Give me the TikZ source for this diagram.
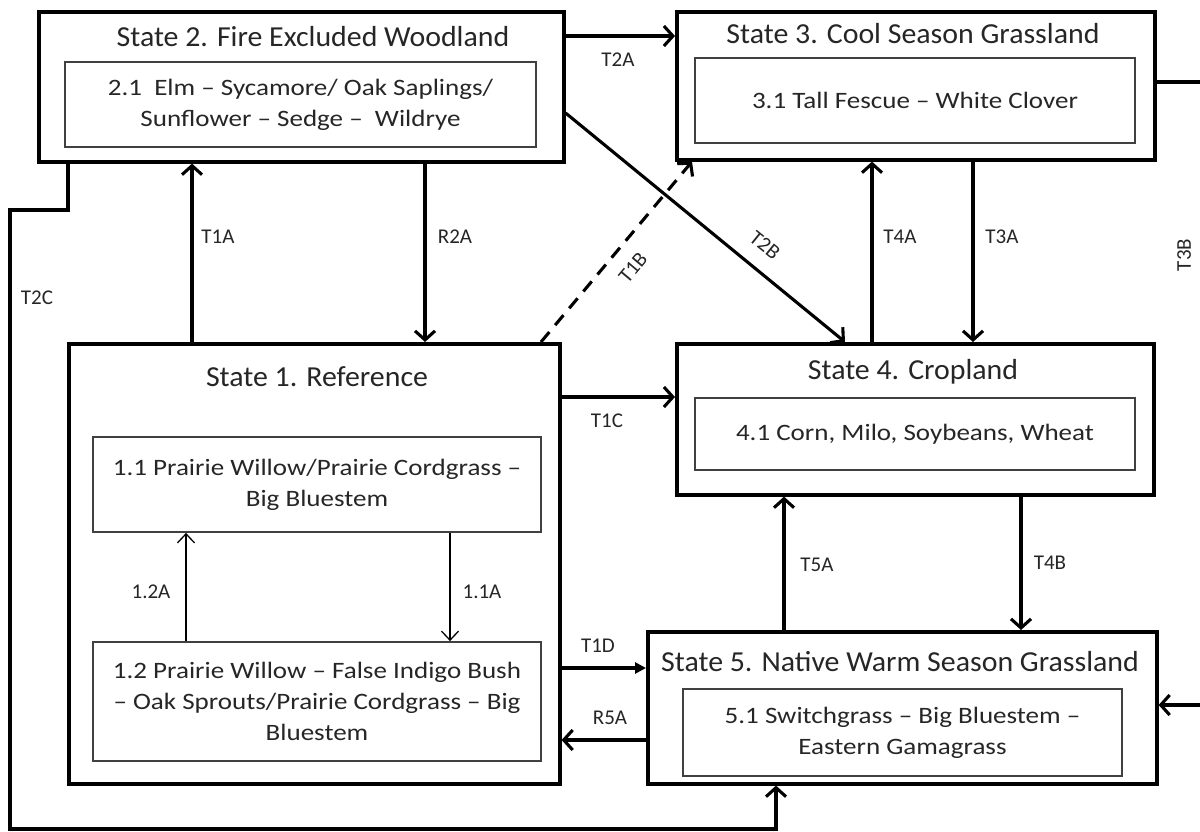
\documentclass[tikz,border=0pt]{standalone}
\usepackage{fontspec}
\setmainfont{Carlito}
\newfontfamily\innerfont[FakeStretch=1.15]{Carlito}
\newfontfamily\titlefont[FakeStretch=1.03]{Carlito}
\usetikzlibrary{arrows.meta}
\begin{document}
\begin{tikzpicture}[x=1pt,y=-1pt,
  outerbox/.style={draw=black, line width=3.6pt, inner sep=0pt, anchor=north west},
  innerbox/.style={draw=black!75, line width=1.8pt, inner sep=0pt, align=center,
    font=\innerfont\fontsize{23.5}{31}\selectfont, text=black!85},
  titletext/.style={font=\titlefont\fontsize{29}{32}\selectfont, text=black!85, inner sep=0pt},
  lbl/.style={font=\fontsize{21}{24}\selectfont, text=black!85, inner sep=0pt},
  conn/.style={line width=3.1pt, -{Straight Barb[length=9pt,width=20pt]}},
  solidconn/.style={line width=3.1pt, -{Triangle[length=11pt,width=11pt]}},
  thinconn/.style={line width=1.3pt, -{Straight Barb[length=9pt,width=17pt]}},
]
\fill[white] (0,0) rectangle (1200,832);
\useasboundingbox (0,0) rectangle (1200,832);

% State 2
\node[outerbox, minimum width=525pt, minimum height=150pt] (s2) at (37,10) {};
\node[titletext] (s2t) at (313,37) {State 2. Fire Excluded Woodland};
\node[innerbox, minimum width=471pt, minimum height=85pt] (s2i) at (300.5,104.5)
  {2.1\ \ Elm – Sycamore/ Oak Saplings/\\Sunflower – Sedge –\ \ Wildrye};

% State 3
\node[outerbox, minimum width=478pt, minimum height=148pt] (s3) at (675,10) {};
\node[titletext] (s3t) at (913,34) {State 3. Cool Season Grassland};
\node[innerbox, minimum width=440pt, minimum height=85pt] (s3i) at (915,100.5)
  {3.1 Tall Fescue – White Clover};

% State 4
\node[outerbox, minimum width=477pt, minimum height=151pt] (s4) at (675,342) {};
\node[titletext] (s4t) at (913,372) {State 4. Cropland};
\node[innerbox, minimum width=440pt, minimum height=72pt] (s4i) at (915,434)
  {4.1 Corn, Milo, Soybeans, Wheat};

% State 5
\node[outerbox, minimum width=509pt, minimum height=152pt] (s5) at (646,630) {};
\node[titletext] (s5t) at (900,662) {State 5. Native Warm Season Grassland};
\node[innerbox, minimum width=439pt, minimum height=87pt] (s5i) at (902.5,732.5)
  {5.1 Switchgrass – Big Bluestem –\\Eastern Gamagrass};

% State 1
\node[outerbox, minimum width=491pt, minimum height=440pt] (s1) at (67,342) {};
\node[titletext] (s1t) at (317,377) {State 1. Reference};
\node[innerbox, minimum width=448pt, minimum height=95pt] (s1a) at (317,484.5)
  {1.1 Prairie Willow/Prairie Cordgrass –\\Big Bluestem};
\node[innerbox, minimum width=448pt, minimum height=119pt] (s1b) at (317,701.5)
  {1.2 Prairie Willow – False Indigo Bush\\– Oak Sprouts/Prairie Cordgrass – Big\\Bluestem};

% helper coordinates
\coordinate (xT1A) at (192,0);
\coordinate (xR2A) at (425,0);
\coordinate (yT2A) at (0,36);
\coordinate (yT2B) at (0,113);
\coordinate (xT2B) at (845,0);
\coordinate (xT1Bs) at (541,0);
\coordinate (xT1Be) at (692,0);
\coordinate (xT4A) at (872,0);
\coordinate (xT3A) at (973,0);
\coordinate (t3b1) at (1201.5,82);
\coordinate (t3b2) at (1201.5,705);
\coordinate (yT1C) at (0,397);
\coordinate (yT1D) at (0,668);
\coordinate (yR5A) at (0,740);
\coordinate (xT5A) at (784,0);
\coordinate (xT4B) at (1021,0);
\coordinate (x12A) at (186,0);
\coordinate (x11A) at (450,0);
\coordinate (c1) at (68,210);
\coordinate (c2) at (10,210);
\coordinate (c3) at (10,829);
\coordinate (c4) at (776,829);

% connectors
\draw[conn] (s1.north -| xT1A) -- (s2.south -| xT1A);
\draw[conn] (s2.south -| xR2A) -- (s1.north -| xR2A);
\draw[conn] (s2.east |- yT2A) -- (s3.west |- yT2A);
\draw[conn] (s2.east |- yT2B) -- (s4.north -| xT2B);
\draw[conn, dash pattern=on 13pt off 9pt] (s1.north -| xT1Bs) -- (s3.south -| xT1Be);
\draw[conn] (s4.north -| xT4A) -- (s3.south -| xT4A);
\draw[conn] (s3.south -| xT3A) -- (s4.north -| xT3A);
\draw[conn] (s3.east |- t3b1) -- (t3b1) -- (t3b2) -- (s5.east |- t3b2);
\draw[conn] (s1.east |- yT1C) -- (s4.west |- yT1C);
\draw[solidconn] (s1.east |- yT1D) -- (s5.west |- yT1D);
\draw[conn] (s5.west |- yR5A) -- (s1.east |- yR5A);
\draw[conn] (s5.north -| xT5A) -- (s4.south -| xT5A);
\draw[conn] (s4.south -| xT4B) -- (s5.north -| xT4B);
\draw[conn] (s2.south -| c1) -- (c1) -- (c2) -- (c3) -- (c4) -- (s5.south -| c4);
\draw[thinconn] (s1b.north -| x12A) -- (s1a.south -| x12A);
\draw[thinconn] (s1a.south -| x11A) -- (s1b.north -| x11A);

% labels
\node[lbl] (lT1A) at (218,237) {T1A};
\node[lbl] (lR2A) at (455,237) {R2A};
\node[lbl] (lT2A) at (618,60) {T2A};
\node[lbl, rotate=-39] (lT2B) at (765,245) {T2B};
\node[lbl, rotate=50] (lT1B) at (633,268) {T1B};
\node[lbl] (lT4A) at (900,237) {T4A};
\node[lbl] (lT3A) at (1002,237) {T3A};
\node[lbl, rotate=90] (lT3B) at (1184,255) {T3B};
\node[lbl] (lT2C) at (37,298) {T2C};
\node[lbl] (lT1C) at (607,421) {T1C};
\node[lbl] (lT1D) at (598,646) {T1D};
\node[lbl] (lR5A) at (610,718) {R5A};
\node[lbl] (lT5A) at (817,565) {T5A};
\node[lbl] (lT4B) at (1050,563) {T4B};
\node[lbl] (l12A) at (151,592) {1.2A};
\node[lbl] (l11A) at (482,592) {1.1A};
\end{tikzpicture}
\end{document}
